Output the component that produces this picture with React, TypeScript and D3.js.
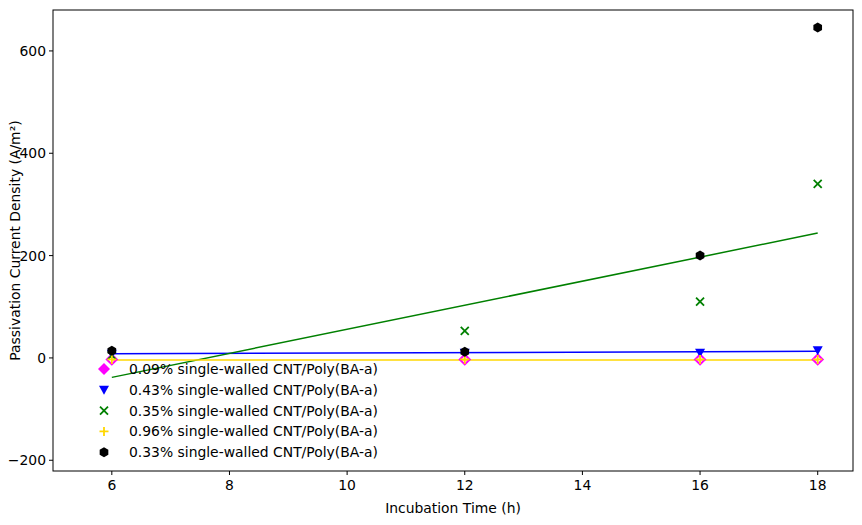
import React from "react";
import * as d3 from "d3";

const times = [6, 12, 16, 18];
const s009 = [-3, -3, -3, -3];
const s043 = [8, 10, 10, 15];
const s035 = [5, 53, 110, 340];
const s096 = [-3, -3, -3, -3];
const s033 = [14, 12, 200, 646];
const fitBlue = [8, 13];
const fitGreen = [-38, 244];
const fitYellow = [-4, -4];
const labels = ["0.09% single-walled CNT/Poly(BA-a)", "0.43% single-walled CNT/Poly(BA-a)", "0.35% single-walled CNT/Poly(BA-a)", "0.96% single-walled CNT/Poly(BA-a)", "0.33% single-walled CNT/Poly(BA-a)"];
const xTicks = [6, 8, 10, 12, 14, 16, 18];
const yTicks = [-200, 0, 200, 400, 600];

const W = 862, H = 525, L = 53, R = 853, T = 10, B = 471;
const FS = 13.9;

function Marker({ kind, x, y }: { kind: string; x: number; y: number }) {
  if (kind === "d") return <path d={`M${x},${y - 5}L${x + 5},${y}L${x},${y + 5}L${x - 5},${y}Z`} fill="none" stroke="magenta" strokeWidth={2} />;
  if (kind === "dl") return <path d={`M${x},${y - 6}L${x + 6},${y}L${x},${y + 6}L${x - 6},${y}Z`} fill="magenta" />;
  if (kind === "v") return <path d={`M${x - 5},${y - 4}L${x + 5},${y - 4}L${x},${y + 5}Z`} fill="blue" />;
  if (kind === "x") return <path d={`M${x - 4},${y - 4}L${x + 4},${y + 4}M${x - 4},${y + 4}L${x + 4},${y - 4}`} stroke="green" strokeWidth={1.8} />;
  if (kind === "+") return <path d={`M${x - 4.5},${y}L${x + 4.5},${y}M${x},${y - 4.5}L${x},${y + 4.5}`} stroke="gold" strokeWidth={1.8} />;
  const pts = d3.range(6).map(i => { const a = Math.PI / 6 + i * Math.PI / 3; return `${x + 5 * Math.cos(a)},${y + 5 * Math.sin(a)}`; });
  return <polygon points={pts.join(" ")} fill="black" />;
}

export default function App() {
  const x = d3.scaleLinear().domain([5.0, 18.6]).range([L, R]);
  const y = d3.scaleLinear().domain([-221, 680]).range([B, T]);
  const line = (v: number[], c: string) => <line x1={x(6)} x2={x(18)} y1={y(v[0])} y2={y(v[1])} stroke={c} strokeWidth={1.5} />;
  const series: [number[], string][] = [[s009, "d"], [s043, "v"], [s035, "x"], [s096, "+"], [s033, "h"]];
  return (
    <svg width={W} height={H} style={{ position: "absolute", left: 0, top: 0, fontFamily: "DejaVu Sans" }}>
      <rect width={W} height={H} fill="white" />
      {line(fitBlue, "blue")}
      {line(fitGreen, "green")}
      {line(fitYellow, "gold")}
      {series.map(([vals, k], si) => vals.map((v, i) => <Marker key={si + "-" + i} kind={k} x={x(times[i])} y={y(v)} />))}
      {labels.map((l, i) => (
        <g key={l}>
          <Marker kind={i === 0 ? "dl" : series[i][1]} x={104} y={369 + i * 20.8} />
          <text x={129} y={369 + i * 20.8 + 5} fontSize={FS}>{l}</text>
        </g>
      ))}
      <rect x={L} y={T} width={R - L} height={B - T} fill="none" stroke="black" />
      {xTicks.map(t => (
        <g key={t}>
          <line x1={x(t)} x2={x(t)} y1={B} y2={B + 4} stroke="black" />
          <text x={x(t)} y={B + 19} fontSize={FS} textAnchor="middle">{t}</text>
        </g>
      ))}
      {yTicks.map(t => (
        <g key={t}>
          <line x1={L - 4} x2={L} y1={y(t)} y2={y(t)} stroke="black" />
          <text x={L - 7} y={y(t) + 5} fontSize={FS} textAnchor="end">{t < 0 ? "−" + Math.abs(t) : t}</text>
        </g>
      ))}
      <text x={(L + R) / 2} y={513} fontSize={FS} textAnchor="middle">Incubation Time (h)</text>
      <text transform={`translate(20,${(T + B) / 2}) rotate(-90)`} fontSize={FS} textAnchor="middle">Passivation Current Density (A/m²)</text>
    </svg>
  );
}
